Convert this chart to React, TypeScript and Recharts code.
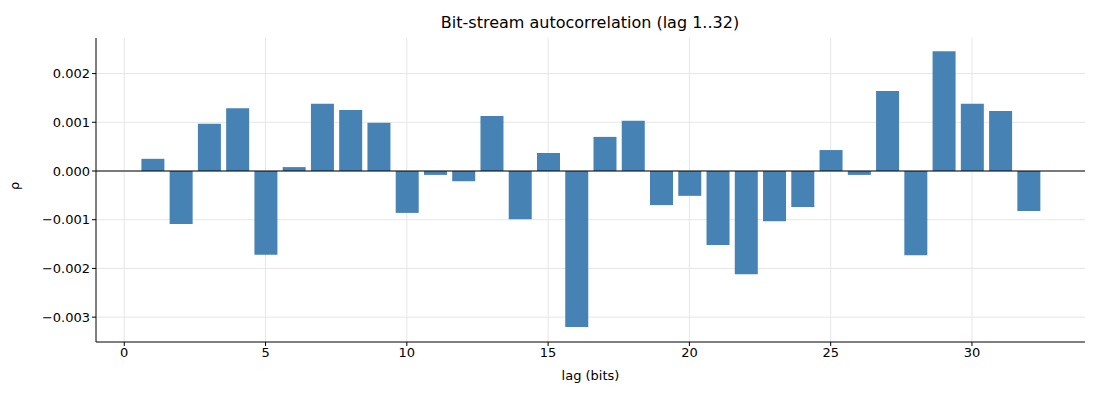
import { BarChart, Bar, XAxis, YAxis, CartesianGrid, ReferenceLine, Label } from 'recharts';

const lags = Array.from({ length: 32 }, (_, i) => i + 1);
const rho = [
    0.00025, -0.00109, 0.00097, 0.00129, -0.00172, 0.00008, 0.00138, 0.00125,
    0.00099, -0.00086, -0.00008, -0.00021, 0.00113, -0.00099, 0.00037, -0.0032,
    0.0007, 0.00103, -0.0007, -0.00051, -0.00152, -0.00212, -0.00103, -0.00074,
    0.00043, -0.00008, 0.00164, -0.00173, 0.00246, 0.00138, 0.00123, -0.00082,
];
const xTicks = [0, 5, 10, 15, 20, 25, 30];
const yTicks = [-0.003, -0.002, -0.001, 0, 0.001, 0.002];

const data = lags.map((lag, i) => ({ lag, rho: rho[i] }));

const fmtY = (v: number) => v.toFixed(3).replace('-', '\u2212');

export default function App() {
    return (
        <div style={{ position: 'absolute', left: 0, top: 0, fontFamily: 'DejaVu Sans' }}>
            <div style={{ position: 'absolute', left: 0, width: 1180, top: 13, textAlign: 'center', fontSize: 16 }}>
                Bit-stream autocorrelation (lag 1..32)
            </div>
            <BarChart width={1100} height={400} data={data} margin={{ top: 38, right: 15, bottom: 28, left: 0 }} barSize={23}>
                <CartesianGrid stroke="#e6e6e6" syncWithTicks />
                <XAxis dataKey="lag" type="number" domain={[-1, 34]} ticks={xTicks} allowDataOverflow height={30}
                    stroke="#000" tick={{ fill: '#000', fontSize: 13 }} tickSize={4}>
                    <Label value="lag (bits)" position="insideBottom" offset={-8} fill="#000" fontSize={13} />
                </XAxis>
                <YAxis width={96} domain={[-0.00351, 0.00273]} ticks={yTicks} tickFormatter={fmtY} allowDataOverflow
                    stroke="#000" tick={{ fill: '#000', fontSize: 13 }} tickSize={4}>
                    <Label value="ρ" angle={-90} position="insideLeft" offset={14} fill="#000" fontSize={13} />
                </YAxis>
                <ReferenceLine y={0} stroke="#000" strokeWidth={1} />
                <Bar dataKey="rho" fill="#4682b4" isAnimationActive={false} />
            </BarChart>
        </div>
    );
}
